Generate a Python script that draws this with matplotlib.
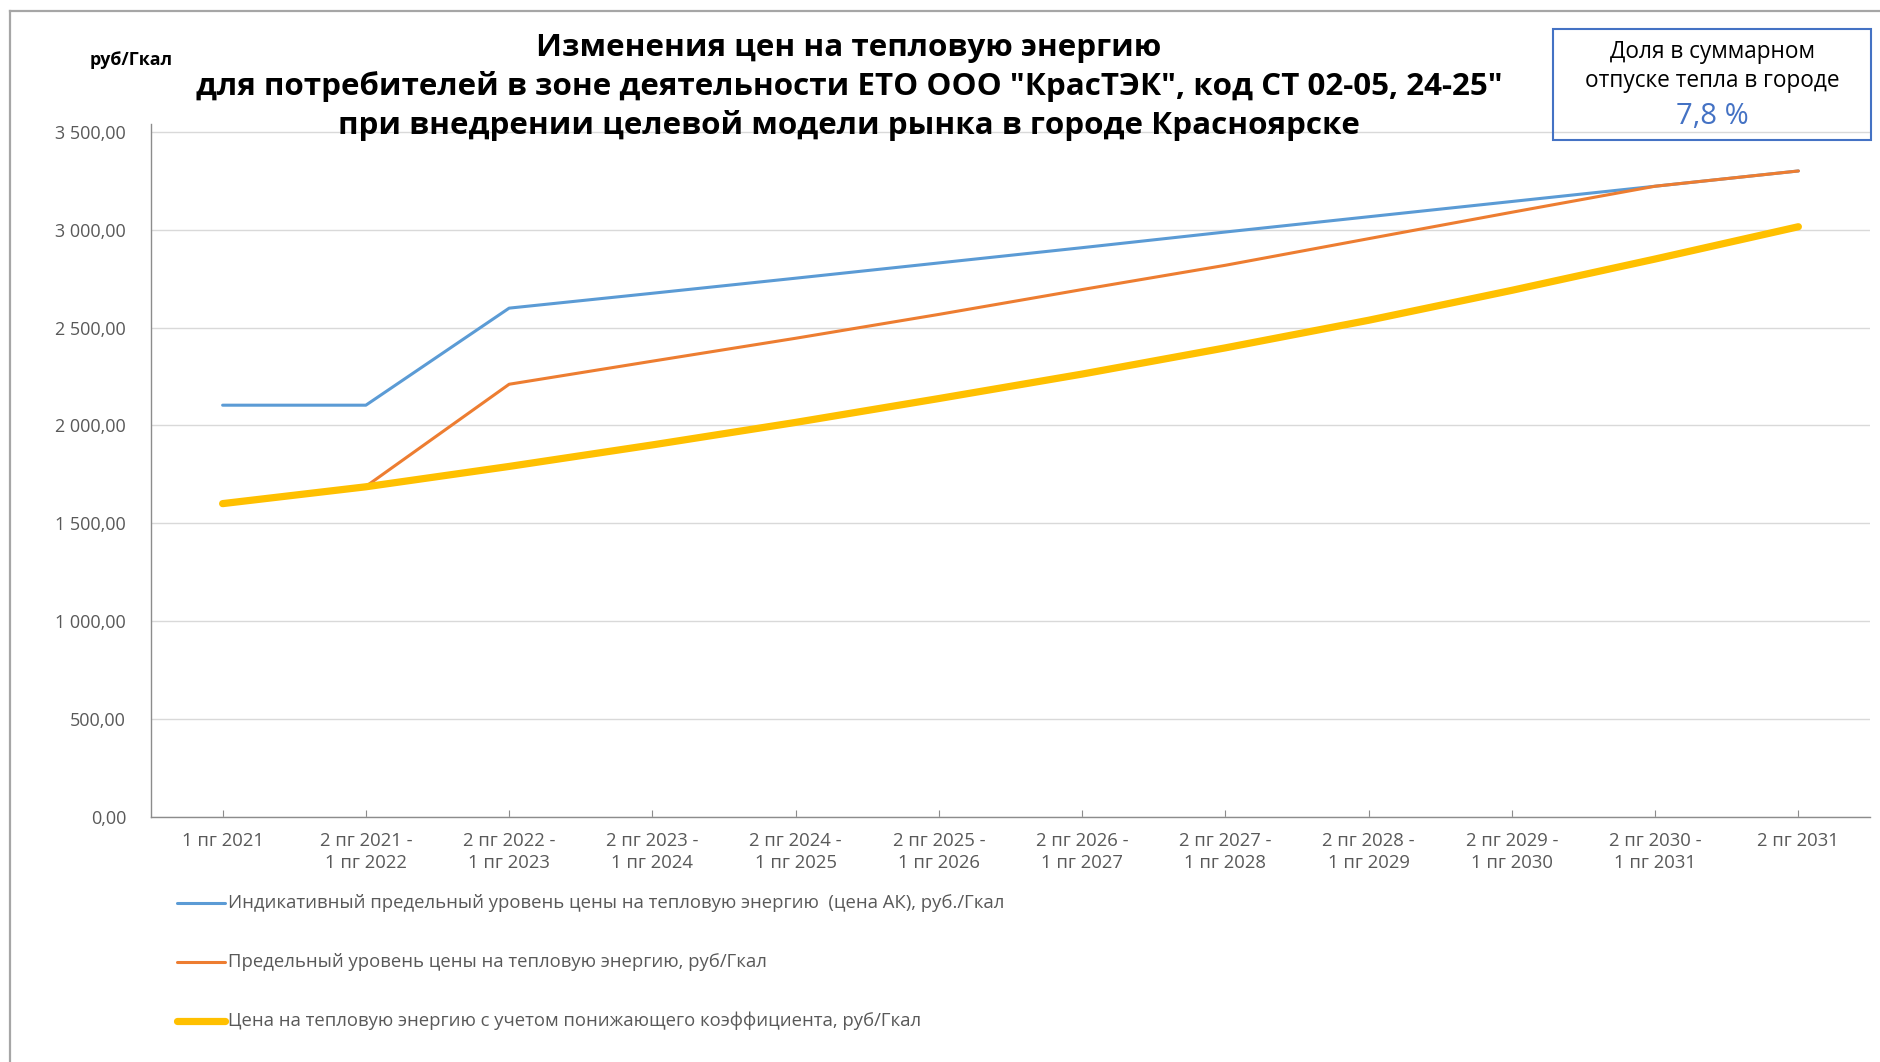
import matplotlib
matplotlib.use("Agg")
import matplotlib.pyplot as plt
from matplotlib.lines import Line2D
from matplotlib.ticker import FuncFormatter, MultipleLocator

categories = ["1 пг 2021", "2 пг 2021 -\n1 пг 2022", "2 пг 2022 -\n1 пг 2023", "2 пг 2023 -\n1 пг 2024",
              "2 пг 2024 -\n1 пг 2025", "2 пг 2025 -\n1 пг 2026", "2 пг 2026 -\n1 пг 2027", "2 пг 2027 -\n1 пг 2028",
              "2 пг 2028 -\n1 пг 2029", "2 пг 2029 -\n1 пг 2030", "2 пг 2030 -\n1 пг 2031", "2 пг 2031"]
indicative = [2103, 2103, 2599, 2675, 2752, 2830, 2908, 2988, 3066, 3144, 3222, 3300]
limit_price = [1600, 1688, 2210, 2328, 2445, 2567, 2694, 2818, 2954, 3089, 3222, 3300]
reduced_price = [1600, 1686, 1790, 1900, 2015, 2137, 2262, 2396, 2537, 2690, 2850, 3015]
labels = ["Индикативный предельный уровень цены на тепловую энергию  (цена АК), руб./Гкал",
          "Предельный уровень цены на тепловую энергию, руб/Гкал",
          "Цена на тепловую энергию с учетом понижающего коэффициента, руб/Гкал"]

FONT = ["Open Sans", "DejaVu Sans"]
plt.rcParams['font.family'] = FONT

fig = plt.figure(figsize=(18.8, 10.62), dpi=100)
ax = fig.add_axes([151/1880, 1-816.7/1062, (1870-151)/1880, (816.7-124)/1062])

x = list(range(len(categories)))
l1, = ax.plot(x, indicative, color="#5B9BD5", lw=2.2, solid_capstyle="round", zorder=3)
l2, = ax.plot(x, limit_price, color="#ED7D31", lw=2.2, solid_capstyle="round", zorder=4)
l3, = ax.plot(x, reduced_price, color="#FFC000", lw=5.2, solid_capstyle="round", zorder=5)

ax.set_xlim(-0.5, 11.5)
ax.set_ylim(0, 3540)
ax.yaxis.set_major_locator(MultipleLocator(500))
ax.yaxis.set_major_formatter(FuncFormatter(lambda v, p: f"{int(v):,}".replace(",", " ") + ",00"))
ax.grid(axis="y", color="#D9D9D9", lw=1)
ax.set_axisbelow(True)
ax.set_xticks(x)
ax.set_xticklabels(categories, fontsize=13.3, color="#595959", linespacing=1.3)
for s in ["top", "right"]:
    ax.spines[s].set_visible(False)
for s in ["left", "bottom"]:
    ax.spines[s].set_color("#8C8C8C")
    ax.spines[s].set_linewidth(1)
ax.tick_params(axis="y", length=0, pad=18, labelsize=13, labelcolor="#595959")
ax.tick_params(axis="x", direction="in", length=5, color="#8C8C8C", pad=11)

fig.text(849/1880, 1-87/1062, "Изменения цен на тепловую энергию\nдля потребителей в зоне деятельности ЕТО ООО \"КрасТЭК\", код СТ 02-05, 24-25\"\nпри внедрении целевой модели рынка в городе Красноярске",
         ha="center", va="center", fontsize=22.6, fontweight="bold", linespacing=1.33)
fig.text(131/1880, 1-60/1062, "руб/Гкал", ha="center", va="center", fontsize=12.8, fontweight="bold")

# box
box = plt.Rectangle((1553/1880, 1-140/1062), (1871-1553)/1880, (140-29)/1062, transform=fig.transFigure,
                    fill=False, edgecolor="#4472C4", lw=1.5)
fig.add_artist(box)
fig.text(1712/1880, 1-52/1062, "Доля в суммарном", ha="center", va="center", fontsize=16.3)
fig.text(1712/1880, 1-81/1062, "отпуске тепла в городе", ha="center", va="center", fontsize=16.3)
fig.text(1712/1880, 1-116/1062, "7,8 %", ha="center", va="center", fontsize=21, color="#4472C4")

# legend
for i, (ln, lab) in enumerate(zip([l1, l2, l3], labels)):
    yy = 1 - (903 + 59*i)/1062
    fig.add_artist(Line2D([177/1880, 225/1880], [yy, yy], transform=fig.transFigure,
                          color=ln.get_color(), lw=ln.get_linewidth(), solid_capstyle="round"))
    fig.text(228/1880, yy, lab, ha="left", va="center", fontsize=13.3, color="#595959")

# figure border
fig.add_artist(Line2D([10/1880, 10/1880], [0, 1-11/1062], transform=fig.transFigure, color="#A6A6A6", lw=1.6))
fig.add_artist(Line2D([10/1880, 1], [1-11/1062, 1-11/1062], transform=fig.transFigure, color="#A6A6A6", lw=1.6))

fig.savefig("out.png", dpi=100)
